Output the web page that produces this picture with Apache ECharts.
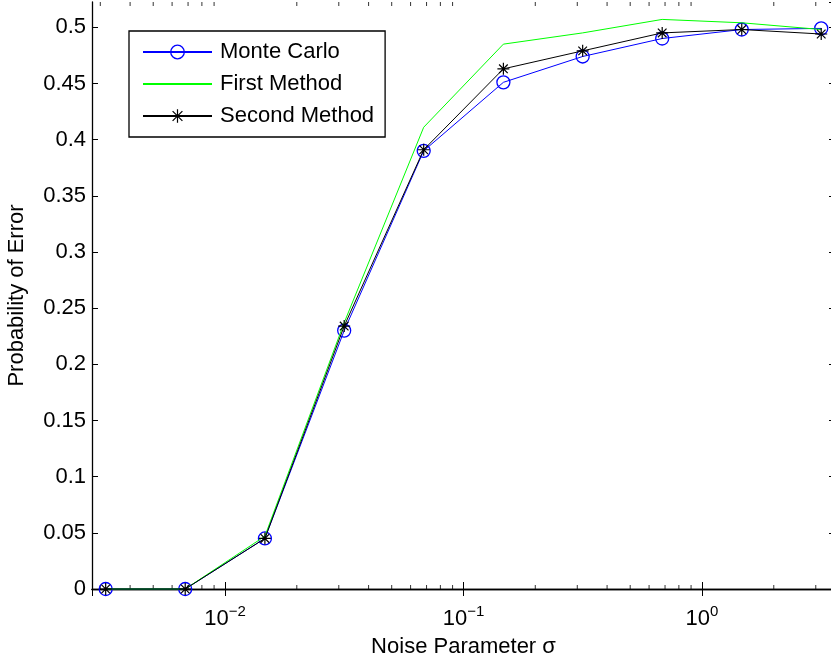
<!DOCTYPE html>
<html>
<head>
<meta charset="utf-8">
<script src="https://cdn.jsdelivr.net/npm/echarts@6/dist/echarts.min.js"></script>
<style>html,body{margin:0;padding:0;background:#fff;}#c{width:831px;height:658px;}</style>
</head>
<body>
<div id="c"></div>
<script>
// ---- data ----
var sigma = [0.00316, 0.00681, 0.0147, 0.0316, 0.0681, 0.147, 0.316, 0.681, 1.468, 3.162];
var monteCarlo = [0, 0, 0.045, 0.230, 0.390, 0.451, 0.474, 0.490, 0.498, 0.499];
var firstMethod = [0, 0, 0.047, 0.237, 0.411, 0.485, 0.495, 0.507, 0.504, 0.498];
var secondMethod = [0, 0, 0.045, 0.234, 0.391, 0.463, 0.479, 0.495, 0.498, 0.494];
var seriesNames = ['Monte Carlo', 'First Method', 'Second Method'];
var minorTickValues = [0.003, 0.004, 0.005, 0.006, 0.007, 0.008, 0.009,
  0.02, 0.03, 0.04, 0.05, 0.06, 0.07, 0.08, 0.09,
  0.2, 0.3, 0.4, 0.5, 0.6, 0.7, 0.8, 0.9, 2, 3];
var xMin = 0.002769, xMax = 3.612, yMin = 0, yMax = 0.5225, yStep = 0.05;

var FONT = 'Liberation Sans, Arial, Helvetica, sans-serif';
var FS = 22;
function pairs(xs, ys) { return xs.map(function (x, i) { return [x, ys[i]]; }); }
var starPath = 'path://M0,-1L0,1M-1,0L1,0M-0.72,-0.72L0.72,0.72M-0.72,0.72L0.72,-0.72';
var CLEAR = 'rgba(0,0,0,0)';

var chart = echarts.init(document.getElementById('c'), null, {renderer: 'canvas'});
var xAxisCommon = {
  type: 'log', logBase: 10, min: xMin, max: xMax,
  axisLine: {show: true, lineStyle: {color: '#000', width: 1.3}},
  axisTick: {show: true, inside: true, length: 7, lineStyle: {color: '#000', width: 1}},
  splitLine: {show: false}
};
chart.setOption({
  animation: false,
  backgroundColor: '#fff',
  grid: {left: 92, width: 743, top: 2, height: 587, containLabel: false, outerBoundsMode: 'none'},
  xAxis: [
    Object.assign({}, xAxisCommon, {
      position: 'bottom',
      name: 'Noise Parameter σ', nameLocation: 'middle', nameGap: 47,
      nameTextStyle: {fontFamily: FONT, fontSize: FS, color: '#000'},
      axisLabel: {
        show: true, margin: 19, showMinLabel: false, showMaxLabel: false,
        formatter: function (v) {
          var e = Math.round(Math.log10(v));
          return '{b|10}{s|' + String(e).replace('-', '\u2212') + '}';
        },
        rich: {
          b: {fontFamily: FONT, fontSize: FS, lineHeight: FS, color: '#000', verticalAlign: 'bottom'},
          s: {fontFamily: FONT, fontSize: 15, lineHeight: 15, color: '#000', verticalAlign: 'bottom', padding: [0, 0, 11, 0]}
        }
      }
    }),
    Object.assign({}, xAxisCommon, {position: 'top', axisLabel: {show: false}})
  ],
  yAxis: [
    {
      type: 'value', min: yMin, max: yMax, interval: yStep, position: 'left',
      name: 'Probability of Error', nameLocation: 'middle', nameGap: 64,
      nameTextStyle: {fontFamily: FONT, fontSize: FS, color: '#000'},
      axisLine: {show: true, lineStyle: {color: '#000', width: 1.3}},
      axisTick: {show: true, inside: true, length: 6, lineStyle: {color: '#000', width: 1}},
      axisLabel: {show: true, margin: 6, showMaxLabel: false, fontFamily: FONT, fontSize: FS, color: '#000'},
      splitLine: {show: false}
    },
    {
      type: 'value', min: yMin, max: yMax, interval: yStep, position: 'right',
      axisLine: {show: true, lineStyle: {color: '#000', width: 1.3}},
      axisTick: {show: true, inside: true, length: 6, lineStyle: {color: '#000', width: 1}},
      axisLabel: {show: false}, splitLine: {show: false}
    }
  ],
  legend: {
    show: true, orient: 'vertical', left: 129, top: 31,
    itemWidth: 69, itemHeight: 17, itemGap: 10,
    padding: [10, 11, 10, 13],
    borderColor: '#000', borderWidth: 1.3, backgroundColor: '#fff', borderRadius: 0,
    selectedMode: false,
    textStyle: {fontFamily: FONT, fontSize: FS, lineHeight: 22, color: '#000', padding: [0, 0, 0, 3]},
    data: [
      {name: seriesNames[0], itemStyle: {color: CLEAR, borderColor: '#0000ff', borderWidth: 1.3}},
      {name: seriesNames[1], itemStyle: {color: CLEAR, borderColor: CLEAR, opacity: 0}},
      {name: seriesNames[2], itemStyle: {color: '#000', borderColor: '#000', borderWidth: 1.2}}
    ]
  },
  series: [
    {
      name: seriesNames[0], type: 'line', data: pairs(sigma, monteCarlo),
      symbol: 'circle', symbolSize: 13, showSymbol: true,
      lineStyle: {color: '#0000ff', width: 1}, itemStyle: {color: CLEAR, borderColor: '#0000ff', borderWidth: 1.3},
      z: 3, clip: false
    },
    {
      name: seriesNames[1], type: 'line', data: pairs(sigma, firstMethod),
      symbol: 'none', showSymbol: false,
      lineStyle: {color: '#00ff00', width: 1}, itemStyle: {color: '#00ff00'},
      z: 4, clip: false
    },
    {
      name: seriesNames[2], type: 'line', data: pairs(sigma, secondMethod),
      symbol: starPath, symbolSize: 12, showSymbol: true,
      lineStyle: {color: '#000', width: 1}, itemStyle: {color: '#000', borderColor: '#000', borderWidth: 1.2},
      z: 5, clip: false
    },
    {
      name: 'minorBottom', type: 'scatter', silent: true, xAxisIndex: 0, yAxisIndex: 0,
      data: minorTickValues.map(function (v) { return [v, yMin]; }),
      symbol: 'rect', symbolSize: [1, 4], symbolOffset: [0, -2],
      itemStyle: {color: '#000'}, z: 2
    },
    {
      name: 'minorTop', type: 'scatter', silent: true, xAxisIndex: 0, yAxisIndex: 0,
      data: minorTickValues.map(function (v) { return [v, yMax]; }),
      symbol: 'rect', symbolSize: [1, 4], symbolOffset: [0, 2],
      itemStyle: {color: '#000'}, z: 2
    }
  ]
});
</script>
</body>
</html>
